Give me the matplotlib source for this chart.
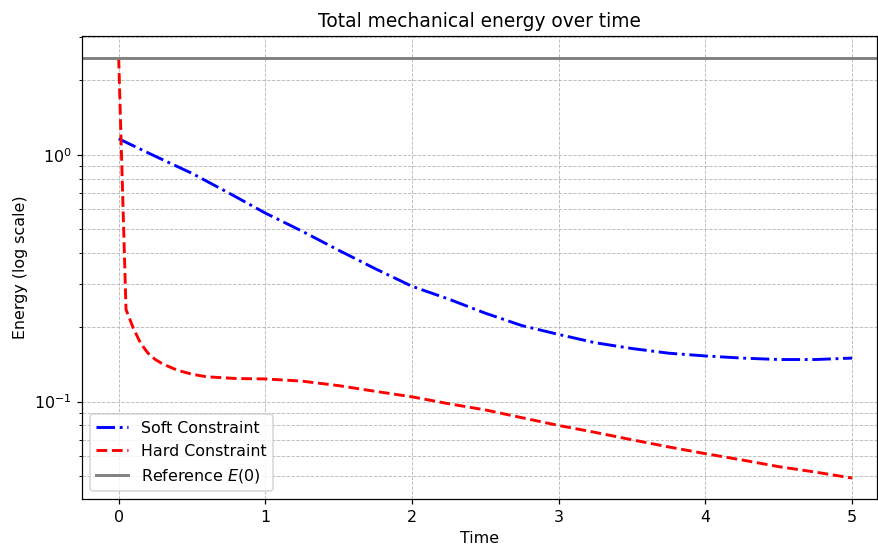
import matplotlib
matplotlib.use("Agg")
import matplotlib.pyplot as plt
import numpy as np

# energy readings (log axis)
E0 = 2.47

t_soft = [0.0, 0.25, 0.5, 0.75, 1.0, 1.25, 1.5, 1.75, 2.0, 2.25, 2.5, 2.75,
          3.0, 3.25, 3.5, 3.75, 4.0, 4.25, 4.5, 4.75, 5.0]
e_soft = [1.16, 0.985, 0.84, 0.70, 0.58, 0.49, 0.41, 0.345, 0.293, 0.26, 0.228, 0.203,
          0.187, 0.173, 0.164, 0.157, 0.153, 0.150, 0.148, 0.148, 0.150]

t_hard = [0.0, 0.05, 0.1, 0.15, 0.2, 0.25, 0.3, 0.4, 0.5, 0.6, 0.8, 1.0, 1.25,
          1.5, 1.75, 2.0, 2.25, 2.5, 2.75, 3.0, 3.25, 3.5, 3.75, 4.0, 4.25,
          4.5, 4.75, 5.0]
e_hard = [2.47, 0.236, 0.198, 0.172, 0.157, 0.148, 0.142, 0.134, 0.129, 0.126, 0.124,
          0.1235, 0.121, 0.116, 0.110, 0.1045, 0.098, 0.0925, 0.086, 0.080, 0.075,
          0.070, 0.0655, 0.0615, 0.058, 0.0545, 0.0518, 0.049]

plt.rcParams['font.size'] = 10.4
plt.rcParams['axes.titlesize'] = 12.2

DPI = 110
fig = plt.figure(figsize=(878 / DPI, 548 / DPI), dpi=DPI)
ax = fig.add_axes([0.0934, 0.0894, 0.9055, 0.8446])

ax.plot(t_soft, e_soft, color='blue', linestyle='-.', linewidth=1.9, label='Soft Constraint')
ax.plot(t_hard, e_hard, color='red', linestyle='--', linewidth=1.9, label='Hard Constraint')
ax.axhline(E0, color='gray', linewidth=1.9, label='Reference $E(0)$')

ax.set_yscale('log')
ax.set_xlim(-0.25, 5.17)
ax.set_ylim(0.0403, 3.02)
ax.set_title('Total mechanical energy over time')
ax.set_xlabel('Time')
ax.set_ylabel('Energy (log scale)')
ax.grid(True, which='both', linestyle='--', linewidth=0.6, alpha=0.85)
ax.legend(loc='lower left')

fig.savefig('out.png', dpi=DPI)
